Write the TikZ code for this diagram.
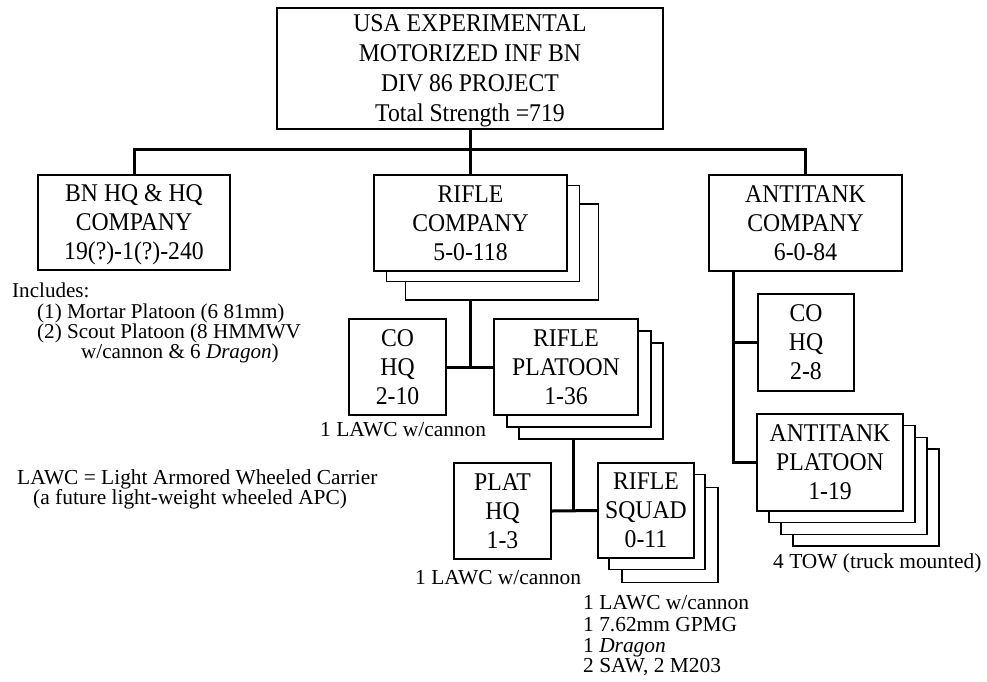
\documentclass[tikz,border=0pt]{standalone}
\usepackage{fontspec}
\setmainfont{Liberation Serif}
\newfontfamily\boxfont[FakeStretch=0.93]{Liberation Serif}
\begin{document}
\begin{tikzpicture}[x=1pt,y=-1pt,
  box/.style={draw, line width=1.7pt, fill=white, align=center, inner sep=0pt, text depth=0pt, font=\boxfont\fontsize{25.5}{29}\selectfont},
  shad/.style={draw, line width=1.7pt, fill=white, inner sep=0pt},
  conn/.style={line width=3pt},
  note/.style={anchor=base west, inner sep=0pt, font=\fontsize{21.4}{21}\selectfont},
  inote/.style={anchor=base west, inner sep=0pt, font=\fontsize{21.1}{20}\selectfont}]
\useasboundingbox (0,0) rectangle (987,681);

% top
\node[box, minimum width=386pt, minimum height=121pt, font=\boxfont\fontsize{25.5}{30}\selectfont] (top) at (470,68.5)
  {USA EXPERIMENTAL\\MOTORIZED INF BN\\DIV 86 PROJECT\\Total Strength =719};

% BN HQ
\node[box, minimum width=192pt, minimum height=95pt] (bnhq) at (134,222.5) {BN HQ \& HQ\\COMPANY\\19(?)-1(?)-240};

% Rifle company with shadows
\node[shad, minimum width=193pt, minimum height=96pt] (rcs2) at (502,252) {};
\node[shad, minimum width=193pt, minimum height=96pt] (rcs1) at (483,233.5) {};
\node[box, minimum width=193pt, minimum height=96pt] (rc) at (470.5,223) {RIFLE\\COMPANY\\5-0-118};

% Antitank company
\node[box, minimum width=193pt, minimum height=96pt] (atc) at (805.5,223) {ANTITANK\\COMPANY\\6-0-84};

% CO HQ (rifle)
\node[box, minimum width=97pt, minimum height=96pt] (coh) at (397.5,367) {CO\\HQ\\2-10};

% Rifle platoon
\node[shad, minimum width=144pt, minimum height=96pt] (rps2) at (591,391) {};
\node[shad, minimum width=144pt, minimum height=96pt] (rps1) at (579,379) {};
\node[box, minimum width=144pt, minimum height=96pt] (rp) at (566,367) {RIFLE\\PLATOON\\1-36};

% PLAT HQ
\node[box, minimum width=97pt, minimum height=96pt] (phq) at (502.5,511) {PLAT\\HQ\\1-3};

% Rifle squad
\node[shad, minimum width=96pt, minimum height=95pt] (sqs2) at (670,535) {};
\node[shad, minimum width=96pt, minimum height=95pt] (sqs1) at (657,522) {};
\node[box, minimum width=96pt, minimum height=95pt] (sq) at (646,510.5) {RIFLE\\SQUAD\\0-11};

% CO HQ (antitank)
\node[box, minimum width=96pt, minimum height=97pt] (coh2) at (806,342.5) {CO\\HQ\\2-8};

% Antitank platoon
\node[shad, minimum width=146pt, minimum height=97pt] (atps3) at (866,497.5) {};
\node[shad, minimum width=146pt, minimum height=97pt] (atps2) at (854,486) {};
\node[shad, minimum width=146pt, minimum height=97pt] (atps1) at (842,474) {};
\node[box, minimum width=146pt, minimum height=97pt] (atp) at (830,462.5) {ANTITANK\\PLATOON\\1-19};

% connectors
\draw[conn] (top.south) -- (top.south |- rc.north);
\draw[conn] (bnhq.north) -- ++(0,-25) -| (atc.north);
\coordinate (j1) at (470.5,367);
\draw[conn] (j1 |- rcs2.south) -- (j1);
\draw[conn] (coh.east) -- (rp.west);
\coordinate (j2) at (573,511);
\draw[conn] (j2 |- rps2.south) -- (j2);
\draw[conn] (phq.east) -- (sq.west);
\coordinate (j3) at (733,462.5);
\draw[conn] (j3 |- atc.south) -- (j3) -- (atp.west);
\draw[conn] (j3 |- coh2.west) -- (coh2.west);

% notes
\node[inote] (inc) at (12,297) {Includes:};
\node[inote] (inc1) at (37,318) {(1) Mortar Platoon (6 81mm)};
\node[inote] (inc2) at (37,338.5) {(2) Scout Platoon (8 HMMWV};
\node[inote] (inc3) at (81,358) {w/cannon \& 6 \textit{Dragon})};
\node[note] (cohn) at (320,436) {1 LAWC w/cannon};
\node[note] (lawc1) at (17,484) {LAWC = Light Armored Wheeled Carrier};
\node[note] (lawc2) at (33,504) {(a future light-weight wheeled APC)};
\node[note] (phqn) at (415,584) {1 LAWC w/cannon};
\node[note] (sq1) at (583,609) {1 LAWC w/cannon};
\node[note] (sq2) at (583,631) {1 7.62mm GPMG};
\node[note] (sq3) at (583,652) {1 \textit{Dragon}};
\node[note] (sq4) at (583,672) {2 SAW, 2 M203};
\node[note] (tow) at (773,568) {4 TOW (truck mounted)};
\end{tikzpicture}
\end{document}
